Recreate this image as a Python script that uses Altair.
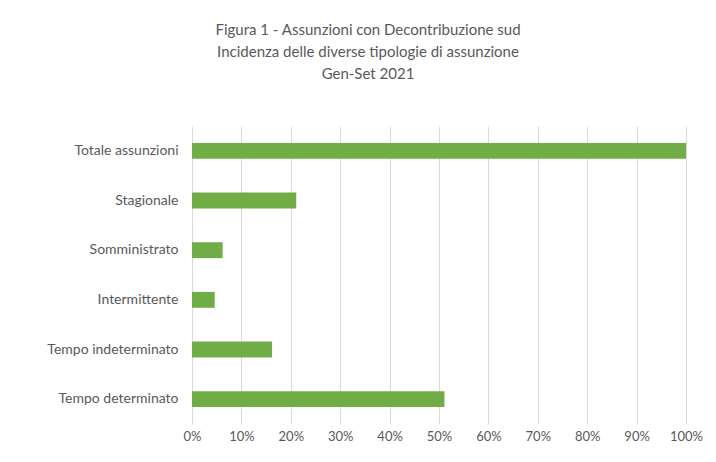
import altair as alt
import pandas as pd

categories = [
    "Totale assunzioni",
    "Stagionale",
    "Somministrato",
    "Intermittente",
    "Tempo indeterminato",
    "Tempo determinato",
]
values = [1.00, 0.211, 0.062, 0.046, 0.162, 0.511]
title_lines = [
    "Figura 1 - Assunzioni con Decontribuzione sud",
    "Incidenza delle diverse tipologie di assunzione",
    "Gen-Set 2021",
]

df = pd.DataFrame({"tipologia": categories, "quota": values})

FONT = "Lato"
GRAY = "#595959"

chart = (
    alt.Chart(df)
    .mark_bar(color="#70AD47")
    .encode(
        x=alt.X(
            "quota:Q",
            scale=alt.Scale(domain=[0, 1], nice=False),
            axis=alt.Axis(
                format=".0%",
                values=[i / 10 for i in range(11)],
                title=None,
                domain=False,
                ticks=False,
                grid=True,
                gridColor="#d9d9d9",
                labelColor=GRAY,
                labelFont=FONT,
                labelFontSize=13,
                labelPadding=6,
                labelFlush=False,
            ),
        ),
        y=alt.Y(
            "tipologia:N",
            sort=categories,
            scale=alt.Scale(paddingInner=0.68, paddingOuter=0.34),
            axis=alt.Axis(
                title=None,
                domain=False,
                ticks=False,
                grid=False,
                labelColor=GRAY,
                labelFont=FONT,
                labelFontSize=14,
                labelPadding=14,
            ),
        ),
    )
    .properties(
        width=494,
        height=298,
        padding={"left": 184, "top": 118, "right": 20, "bottom": 28},
        autosize=alt.AutoSizeParams(type="none"),
        title=alt.TitleParams(
            text=title_lines,
            font=FONT,
            fontSize=15,
            fontWeight="normal",
            color=GRAY,
            lineHeight=22,
            anchor="middle",
            dx=-71,
            offset=44,
        ),
    )
    .configure_view(stroke=None)
)

chart.save("out.html", embed_options={"renderer": "svg", "actions": False})
